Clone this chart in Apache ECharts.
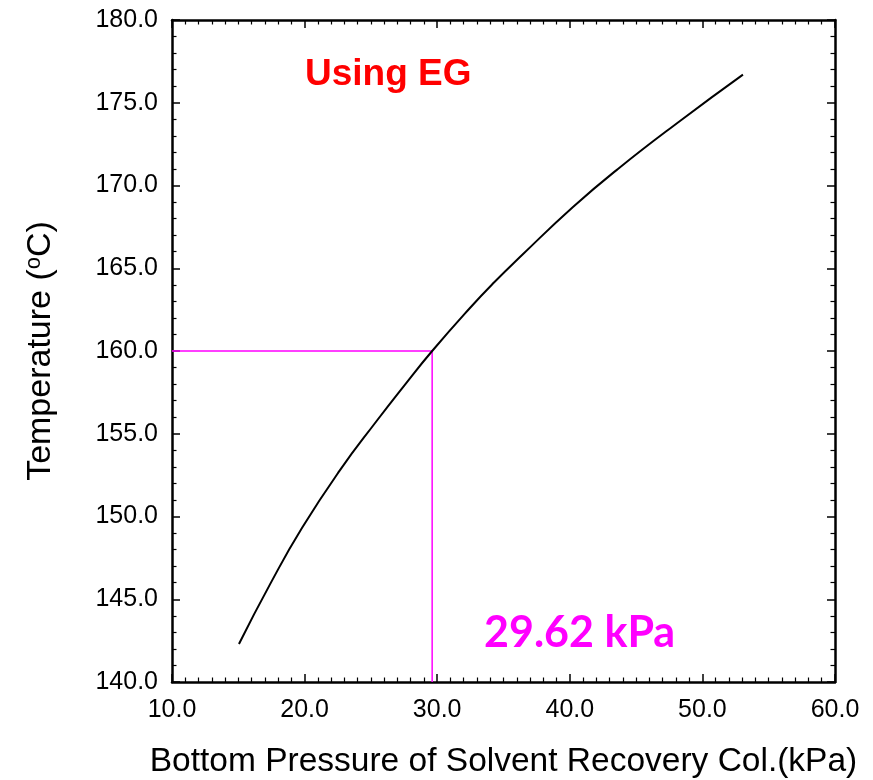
<!DOCTYPE html>
<html>
<head>
<meta charset="utf-8">
<script src="https://cdn.jsdelivr.net/npm/echarts@6/dist/echarts.min.js"></script>
<style>
  html, body { margin: 0; padding: 0; background: #fff; }
  #chart { width: 873px; height: 780px; }
</style>
</head>
<body>
<div id="chart"></div>
<script>
// curve
const pressure = [15.05, 17.39, 19.80, 22.67, 25.46, 27.50, 29.62, 32.47, 34.30, 36.40, 40.24, 43.63, 48.31, 53.06];
const temperature = [142.3, 145.9, 149.3, 152.8, 155.8, 157.9, 160.0, 162.6, 164.15, 165.8, 168.7, 171.0, 173.9, 176.7];

// magenta guide lines
const guideX = [10, 29.62, 29.62];
const guideY = [160, 160, 140];

const FONT = "'Liberation Sans', Arial, sans-serif";

const chart = echarts.init(document.getElementById("chart"));

const baseX = {
  type: "value",
  min: 10,
  max: 60,
  interval: 10,
  axisLine: { show: true, onZero: false, lineStyle: { color: "#000", width: 2.5 } },
  axisTick: { show: true, inside: true, length: 8, lineStyle: { color: "#000", width: 1.5 } },
  minorTick: { show: true, splitNumber: 10, length: 4.5, lineStyle: { color: "#000", width: 1.2 } },
  splitLine: { show: false },
};

const baseY = {
  type: "value",
  min: 140,
  max: 180,
  interval: 5,
  axisLine: { show: true, onZero: false, lineStyle: { color: "#000", width: 2.5 } },
  axisTick: { show: true, inside: true, length: 8, lineStyle: { color: "#000", width: 1.5 } },
  minorTick: { show: true, splitNumber: 5, length: 4.5, lineStyle: { color: "#000", width: 1.2 } },
  splitLine: { show: false },
};

chart.setOption({
  animation: false,
  backgroundColor: "#fff",
  grid: { left: 172, right: 38, top: 20, bottom: 98, outerBoundsMode: "none", containLabel: false },
  xAxis: [
    Object.assign({}, baseX, {
      position: "bottom",
      name: "Bottom Pressure of Solvent Recovery Col.(kPa)",
      nameLocation: "middle",
      nameGap: 63,
      nameTextStyle: { fontFamily: FONT, fontSize: 33.5, color: "#000" },
      axisLabel: {
        margin: 16,
        fontFamily: FONT,
        fontSize: 25,
        color: "#000",
        formatter: (v) => v.toFixed(1),
      },
    }),
    Object.assign({}, baseX, { position: "top", axisLabel: { show: false } }),
  ],
  yAxis: [
    Object.assign({}, baseY, {
      position: "left",
      name: "{n|Temperature (}{s|o}{n|C)}",
      nameLocation: "middle",
      nameGap: 113,
      nameRotate: 90,
      nameTextStyle: {
        rich: {
          n: { fontFamily: FONT, fontSize: 34, color: "#000" },
          s: { fontFamily: FONT, fontSize: 22, color: "#000", verticalAlign: "top", padding: [0, 0, 14, 0] },
        },
      },
      axisLabel: {
        margin: 14,
        fontFamily: FONT,
        fontSize: 25,
        color: "#000",
        formatter: (v) => v.toFixed(1),
      },
    }),
    Object.assign({}, baseY, { position: "right", axisLabel: { show: false } }),
  ],
  series: [
    {
      type: "line",
      data: pressure.map((p, i) => [p, temperature[i]]),
      smooth: 0.5,
      showSymbol: false,
      lineStyle: { color: "#000", width: 2 },
      z: 3,
    },
    {
      type: "line",
      data: guideX.map((p, i) => [p, guideY[i]]),
      showSymbol: false,
      lineStyle: { color: "#ff00ff", width: 1.5 },
      z: 2,
    },
  ],
  graphic: [
    {
      type: "text",
      left: 305,
      top: 56,
      style: { text: "Using EG", fontFamily: FONT, fontWeight: "bold", fontSize: 37, fill: "#ff0000" },
    },
    {
      type: "text",
      left: 484,
      top: 612,
      style: { text: "29.62 kPa", fontFamily: "Lato, sans-serif", fontWeight: "bold", fontSize: 43, fill: "#ff00ff" },
    },
  ],
});
</script>
</body>
</html>
